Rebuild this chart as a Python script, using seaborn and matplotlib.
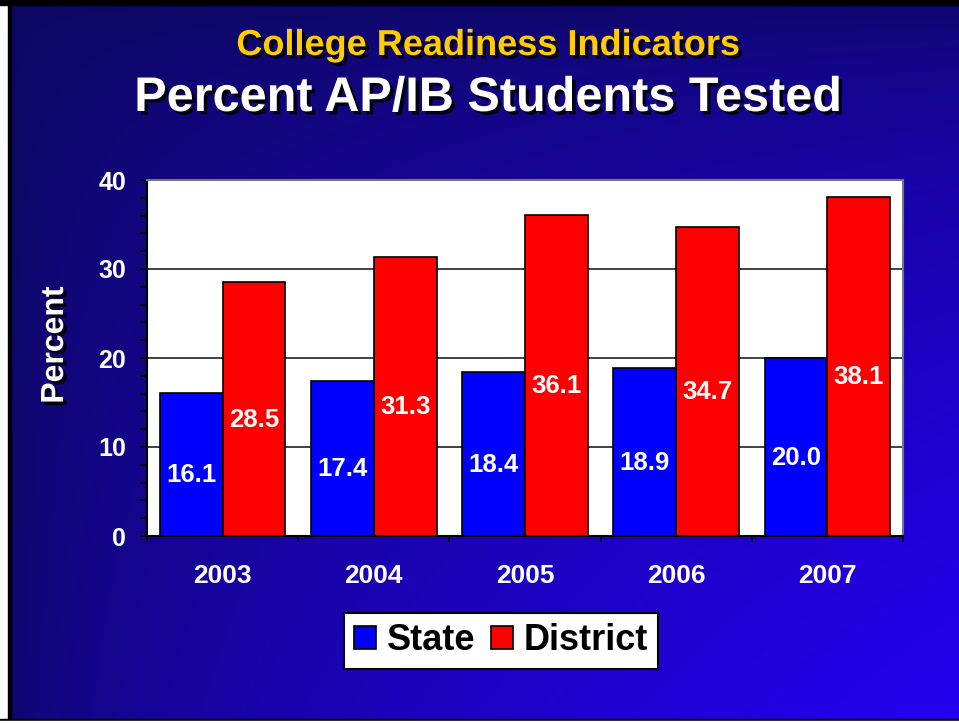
import numpy as np
import pandas as pd
import matplotlib
matplotlib.use('Agg')
import matplotlib.pyplot as plt
import matplotlib.patheffects as pe
from matplotlib.patches import Rectangle
from matplotlib.ticker import MultipleLocator
import seaborn as sns

# Data
years = ['2003', '2004', '2005', '2006', '2007']
state = [16.1, 17.4, 18.4, 18.9, 20.0]
district = [28.5, 31.3, 36.1, 34.7, 38.1]
series = ['State', 'District']
colors = {'State': '#0000FF', 'District': '#FF0000'}

df = pd.DataFrame({
    'Year': years * 2,
    'Series': ['State'] * len(state) + ['District'] * len(district),
    'Percent': state + district,
})

sns.set_theme(style='white')
plt.rcParams['font.family'] = ['Liberation Sans', 'DejaVu Sans']
plt.rcParams['font.weight'] = 'bold'

W, H = 959, 723
fig = plt.figure(figsize=(W / 100, H / 100), dpi=100)

# slide background: dark navy top-left -> bright blue bottom-right
bg = fig.add_axes([0, 0, 1, 1], zorder=0)
xx, yy = np.meshgrid(np.linspace(0, 1, W), np.linspace(0, 1, H))
t = np.sqrt(xx * yy)
dark = np.array([12, 8, 95]) / 255
bright = np.array([38, 0, 240]) / 255
img = dark + t[..., None] * (bright - dark)
bg.imshow(img, aspect='auto', extent=[0, 1, 0, 1], origin='upper')
bg.set_axis_off()

# plot area
ax = fig.add_axes([147 / W, 1 - 536 / H, 756 / W, 356 / H], zorder=1)
ax.set_facecolor('white')
ax.set_axisbelow(True)
sns.barplot(data=df, x='Year', y='Percent', hue='Series', hue_order=series,
            palette=colors, saturation=1, width=0.83, edgecolor='black',
            linewidth=1.2, ax=ax)

ax.set_ylim(0, 40)
ax.set_xlim(-0.5, len(years) - 0.5)
ax.set_xlabel('')
ax.set_ylabel('')

ax.set_yticks([0, 10, 20, 30, 40])
ax.yaxis.set_minor_locator(MultipleLocator(2))
ax.tick_params(axis='y', which='both', direction='out', length=5, width=1.2,
               color='black', left=True)
ax.tick_params(axis='y', which='major', labelsize=18, labelcolor='white', pad=10)
ax.set_xticks(np.arange(-0.5, len(years), 1), minor=True)
ax.tick_params(axis='x', which='major', length=0, pad=20, labelsize=19,
               labelcolor='white')
ax.tick_params(axis='x', which='minor', direction='out', length=4.5, width=1.2,
               color='black', bottom=True)
for lab in ax.get_xticklabels() + ax.get_yticklabels():
    lab.set_fontweight('bold')

ax.yaxis.grid(True, color='#333333', linewidth=1.3)
ax.xaxis.grid(False)
for side in ['left', 'bottom']:
    ax.spines[side].set_color('black')
    ax.spines[side].set_linewidth(1.5)
for side in ['top', 'right']:
    ax.spines[side].set_color('#777777')
    ax.spines[side].set_linewidth(1.5)

# value labels inside bars
for cont in ax.containers:
    for bar in cont:
        h = bar.get_height()
        ax.text(bar.get_x() + bar.get_width() / 2, h / 2 - 1.2, f'{h:.1f}',
                ha='center', va='center', color='white', fontsize=18.5,
                fontweight='bold', zorder=5)

# legend
handles, labels = ax.get_legend_handles_labels()
leg = ax.legend(handles, labels, loc='center', bbox_to_anchor=(501 / W, 1 - 641 / H),
                bbox_transform=fig.transFigure, ncol=2, frameon=True, fancybox=False,
                edgecolor='black', facecolor='white', framealpha=1,
                prop={'size': 26, 'weight': 'bold'}, handlelength=0.6,
                handleheight=0.6, handletextpad=0.3, columnspacing=0.45,
                borderpad=0.28, labelcolor='black')
leg.get_frame().set_linewidth(1.5)

# titles and axis label
shadow = [pe.withSimplePatchShadow(offset=(2.5, -2.5), shadow_rgbFace='black', alpha=0.85)]
fig.text(488 / W, 1 - 55 / H, 'College Readiness Indicators', ha='center',
         va='baseline', fontsize=26, fontweight='bold', color='#FFCC00',
         path_effects=shadow)
fig.text(488 / W, 1 - 111 / H, 'Percent AP/IB Students Tested', ha='center',
         va='baseline', fontsize=35, fontweight='bold', color='white',
         path_effects=shadow)
fig.text(55 / W, 1 - 345 / H, 'Percent', rotation=90, ha='center', va='center',
         fontsize=23, fontweight='bold', color='white', path_effects=shadow)

# slide border
fig.add_artist(Rectangle((0, 0), 8 / W, 1, transform=fig.transFigure,
                         color='white', zorder=10))
fig.add_artist(Rectangle((8 / W, 0), 3 / W, 1, transform=fig.transFigure,
                         color='black', zorder=10))
fig.add_artist(Rectangle((0, 1 - 5 / H), 1, 5 / H, transform=fig.transFigure,
                         color='black', zorder=10))
fig.add_artist(Rectangle((0, 2 / H), 1, 2 / H, transform=fig.transFigure,
                         color='black', zorder=10))
fig.add_artist(Rectangle((0, 0), 1, 2 / H, transform=fig.transFigure,
                         color='white', zorder=10))

fig.savefig('out.png', dpi=100)
